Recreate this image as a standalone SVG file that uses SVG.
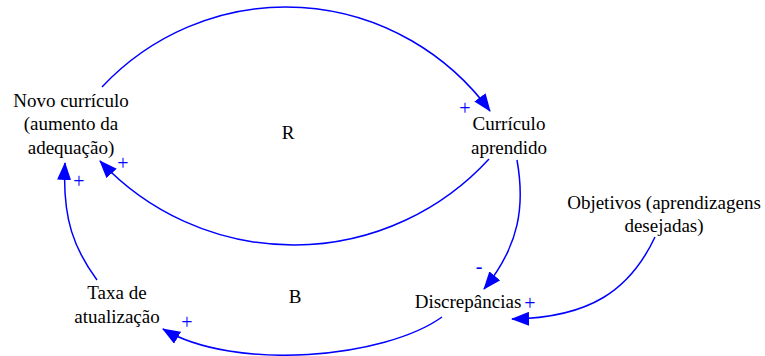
<svg xmlns="http://www.w3.org/2000/svg" width="765" height="356" viewBox="0 0 765 356">
<style>
.t{font-family:"Liberation Serif","Times New Roman",serif;font-size:19px;fill:#000;text-anchor:middle}
.p{font-family:"Liberation Serif","Times New Roman",serif;font-size:20px;fill:#0000FF;text-anchor:middle}
.c{fill:none;stroke:#0000FF;stroke-width:1.5}
</style>
<defs>
<marker id="ah" viewBox="0 0 18 14" markerWidth="18" markerHeight="14" refX="17" refY="7" orient="auto" markerUnits="userSpaceOnUse">
<path d="M0,0 L18,7 L0,14 z" fill="#0000FF"/>
</marker>
</defs>
<rect width="765" height="356" fill="#fff"/>
<g id="connectors">
<path class="c" d="M102,87 A255,260 0 0 1 490,111" marker-end="url(#ah)"/>
<path class="c" d="M489,159 A265,265 0 0 1 100,161" marker-end="url(#ah)"/>
<path class="c" d="M517,160 C525,205 520,245 484,289" marker-end="url(#ah)"/>
<path class="c" d="M655,237 C630,290 590,318 512,319" marker-end="url(#ah)"/>
<path class="c" d="M442,317 C385,358 235,372 163,329" marker-end="url(#ah)"/>
<path class="c" d="M97,280 C75,250 62,220 65,163" marker-end="url(#ah)"/>
</g>
<g id="polarities">
<text class="p" x="465" y="115">+</text>
<text class="p" x="123" y="170">+</text>
<text class="p" x="79" y="188">+</text>
<text class="p" x="479" y="273">-</text>
<text class="p" x="530" y="310">+</text>
<text class="p" x="187" y="329">+</text>
</g>
<g id="novo-curriculo">
<text class="t" x="71" y="107">Novo currículo</text>
<text class="t" x="71" y="130">(aumento da</text>
<text class="t" x="71" y="154">adequação)</text>
</g>
<g id="curriculo-aprendido">
<text class="t" x="509" y="130">Currículo</text>
<text class="t" x="509" y="154">aprendido</text>
</g>
<g id="loop-R"><text class="t" x="288" y="139">R</text></g>
<g id="loop-B"><text class="t" x="295" y="303">B</text></g>
<g id="taxa-atualizacao">
<text class="t" x="117" y="299">Taxa de</text>
<text class="t" x="117" y="323">atualização</text>
</g>
<g id="discrepancias">
<text class="t" x="468" y="308">Discrepâncias</text>
</g>
<g id="objetivos">
<text class="t" x="664" y="209">Objetivos (aprendizagens</text>
<text class="t" x="664" y="232">desejadas)</text>
</g>
</svg>
